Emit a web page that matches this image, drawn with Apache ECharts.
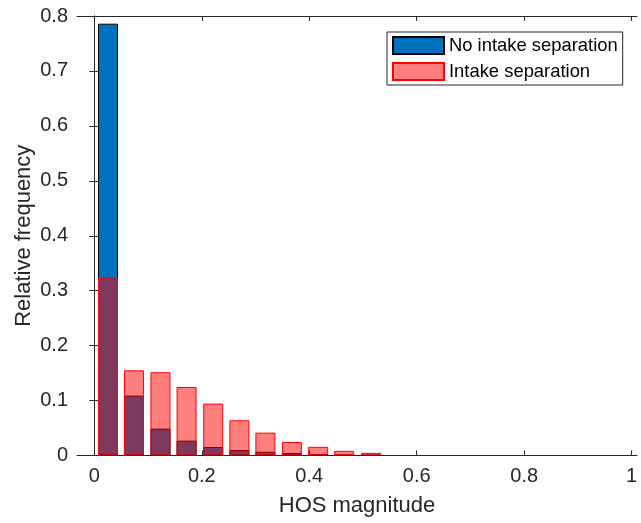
<!DOCTYPE html>
<html>
<head>
<meta charset="utf-8">
<script src="https://cdn.jsdelivr.net/npm/echarts@6/dist/echarts.min.js"></script>
<style>
html,body{margin:0;padding:0;background:#fff;}
#chart{width:641px;height:523px;}
</style>
</head>
<body>
<div id="chart"></div>
<script>
// Bin centers (HOS magnitude)
var binCenters = [0.0255, 0.0738, 0.1231, 0.1717, 0.2213, 0.2700, 0.3184, 0.3677, 0.4166, 0.4650, 0.5148];
// Relative frequency, no intake separation
var noIntakeSep = [0.786, 0.109, 0.049, 0.027, 0.0155, 0.0100, 0.0068, 0.0045, 0.0025, 0.0012, 0.0006];
// Relative frequency, intake separation
var intakeSep = [0.324, 0.155, 0.1516, 0.1248, 0.0944, 0.0641, 0.0416, 0.0246, 0.0158, 0.0085, 0.0047];
var xTicks = [0, 0.2, 0.4, 0.6, 0.8, 1];
var yTicks = [0, 0.1, 0.2, 0.3, 0.4, 0.5, 0.6, 0.7, 0.8];
var seriesNames = ['No intake separation', 'Intake separation'];
var xTitle = 'HOS magnitude';
var yTitle = 'Relative frequency';

var FONT = '"Liberation Sans", Arial, sans-serif';
var AX = '#262626';

function pairs(xs, ys) { return xs.map(function (x, i) { return [x, ys[i]]; }); }

var chart = echarts.init(document.getElementById('chart'), null, {renderer: 'canvas'});
var xBase = {
  type: 'value', min: -0.0322, max: 1.0099,
  axisLine: {show: true, onZero: false, lineStyle: {color: AX, width: 1}},
  axisTick: {show: true, inside: true, length: 5, lineStyle: {color: AX}, customValues: xTicks},
  splitLine: {show: false}
};
var yBase = {
  type: 'value', min: 0, max: 0.8, interval: 0.1,
  axisLine: {show: true, lineStyle: {color: AX, width: 1}},
  axisTick: {show: true, inside: true, length: 5, lineStyle: {color: AX}},
  splitLine: {show: false}
};
var option = {
  backgroundColor: '#fff',
  animation: false,
  textStyle: {fontFamily: FONT},
  grid: {left: 77, right: 4, top: 16, bottom: 67.5, containLabel: false},
  legend: {
    show: true,
    data: seriesNames,
    orient: 'vertical',
    icon: 'rect',
    left: 387, top: 32,
    padding: [4, 5, 4, 5],
    itemGap: 7,
    itemWidth: 51, itemHeight: 17,
    backgroundColor: '#fff',
    borderColor: AX, borderWidth: 1,
    textStyle: {fontSize: 18.4, lineHeight: 17, color: '#000', fontFamily: FONT, padding: [0, 0, 0, 0]}
  },
  xAxis: [
    Object.assign({}, xBase, {
      position: 'bottom',
      name: xTitle, nameLocation: 'middle', nameGap: 39, nameMoveOverlap: false,
      nameTextStyle: {fontSize: 22, color: AX, fontFamily: FONT},
      axisLabel: {show: true, customValues: xTicks, fontSize: 20, color: AX, margin: 11, fontFamily: FONT,
        formatter: function (v) { return String(+v.toFixed(1)); }}
    }),
    Object.assign({}, xBase, {position: 'top', axisLabel: {show: false}})
  ],
  yAxis: [
    Object.assign({}, yBase, {
      position: 'left',
      name: yTitle, nameLocation: 'middle', nameGap: 42, nameRotate: 90, nameMoveOverlap: false,
      nameTextStyle: {fontSize: 22, color: AX, fontFamily: FONT},
      axisLabel: {show: true, fontSize: 20, color: AX, margin: 9, fontFamily: FONT,
        formatter: function (v) { return String(+v.toFixed(1)); }}
    }),
    Object.assign({}, yBase, {position: 'right', axisLabel: {show: false}})
  ],
  series: [
    {
      name: seriesNames[0], type: 'bar', xAxisIndex: 0, yAxisIndex: 0,
      barWidth: 20, barGap: '-100%',
      data: pairs(binCenters, noIntakeSep),
      itemStyle: {color: '#0072BD', borderColor: '#000', borderWidth: 1}
    },
    {
      name: seriesNames[1], type: 'bar', xAxisIndex: 0, yAxisIndex: 0,
      barWidth: 20, barGap: '-100%',
      data: pairs(binCenters, intakeSep),
      itemStyle: {color: 'rgba(255,0,0,0.5)', borderColor: '#ff0000', borderWidth: 1}
    }
  ]
};
chart.setOption(option);
</script>
</body>
</html>
